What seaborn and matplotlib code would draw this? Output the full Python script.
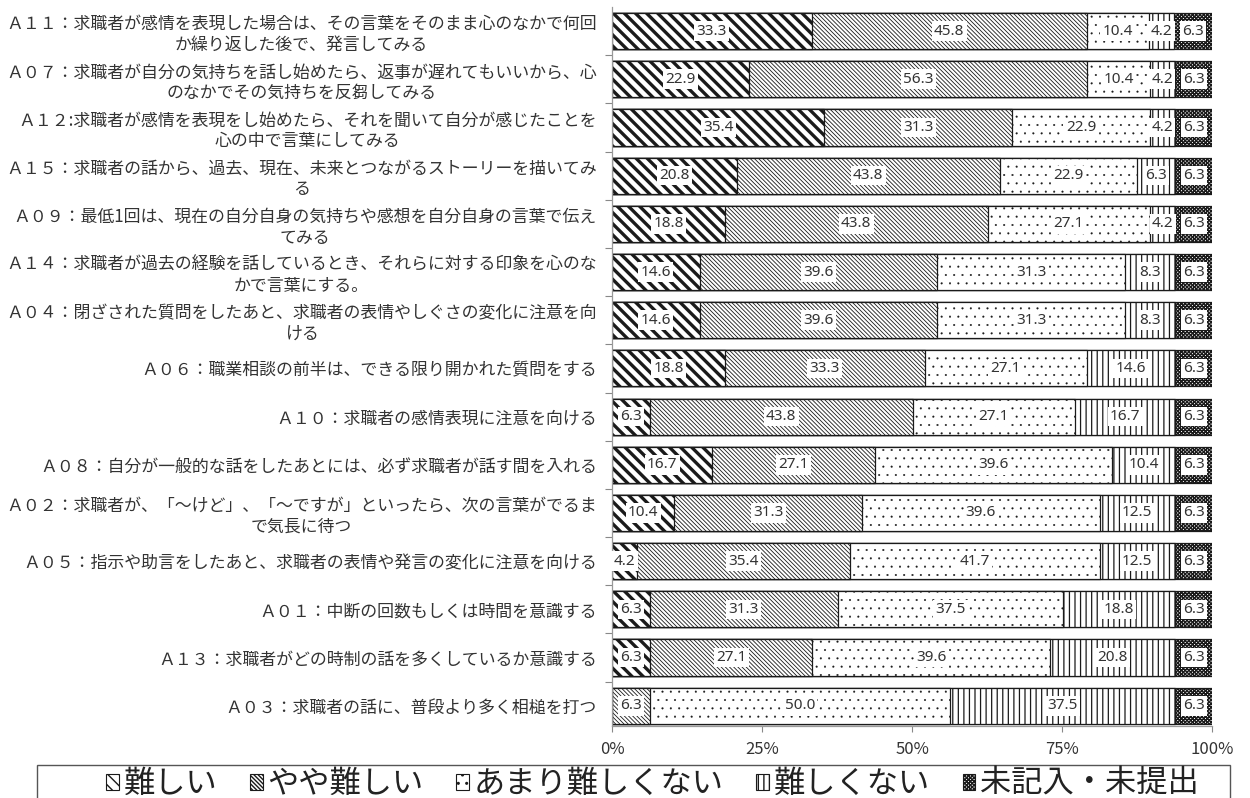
import numpy as np
import pandas as pd
import matplotlib
matplotlib.use("Agg")
import matplotlib.pyplot as plt
import matplotlib.patches as mpatches
import seaborn as sns

# ---------------- data ----------------
codes = ["A11", "A07", "A12", "A15", "A09", "A14", "A04", "A06",
         "A10", "A08", "A02", "A05", "A01", "A13", "A03"]
labels = [
    "Ａ１１：求職者が感情を表現した場合は、その言葉をそのまま心のなかで何回\nか繰り返した後で、発言してみる",
    "Ａ０７：求職者が自分の気持ちを話し始めたら、返事が遅れてもいいから、心\nのなかでその気持ちを反芻してみる",
    "Ａ１２:求職者が感情を表現をし始めたら、それを聞いて自分が感じたことを\n心の中で言葉にしてみる",
    "Ａ１５：求職者の話から、過去、現在、未来とつながるストーリーを描いてみ\nる",
    "Ａ０９：最低1回は、現在の自分自身の気持ちや感想を自分自身の言葉で伝え\nてみる",
    "Ａ１４：求職者が過去の経験を話しているとき、それらに対する印象を心のな\nかで言葉にする。",
    "Ａ０４：閉ざされた質問をしたあと、求職者の表情やしぐさの変化に注意を向\nける",
    "Ａ０６：職業相談の前半は、できる限り開かれた質問をする",
    "Ａ１０：求職者の感情表現に注意を向ける",
    "Ａ０８：自分が一般的な話をしたあとには、必ず求職者が話す間を入れる",
    "Ａ０２：求職者が、「～けど」、「～ですが」といったら、次の言葉がでるま\nで気長に待つ",
    "Ａ０５：指示や助言をしたあと、求職者の表情や発言の変化に注意を向ける",
    "Ａ０１：中断の回数もしくは時間を意識する",
    "Ａ１３：求職者がどの時制の話を多くしているか意識する",
    "Ａ０３：求職者の話に、普段より多く相槌を打つ",
]
series_names = ["難しい", "やや難しい", "あまり難しくない", "難しくない", "未記入・未提出"]
hard        = [33.3, 22.9, 35.4, 20.8, 18.8, 14.6, 14.6, 18.8, 6.3, 16.7, 10.4, 4.2, 6.3, 6.3, 0.0]
rather_hard = [45.8, 56.3, 31.3, 43.8, 43.8, 39.6, 39.6, 33.3, 43.8, 27.1, 31.3, 35.4, 31.3, 27.1, 6.3]
not_very    = [10.4, 10.4, 22.9, 22.9, 27.1, 31.3, 31.3, 27.1, 27.1, 39.6, 39.6, 41.7, 37.5, 39.6, 50.0]
not_hard    = [4.2, 4.2, 4.2, 6.3, 4.2, 8.3, 8.3, 14.6, 16.7, 10.4, 12.5, 12.5, 18.8, 20.8, 37.5]
no_answer   = [6.3, 6.3, 6.3, 6.3, 6.3, 6.3, 6.3, 6.3, 6.3, 6.3, 6.3, 6.3, 6.3, 6.3, 6.3]
xticks = [0, 25, 50, 75, 100]
xticklabels = ["0%", "25%", "50%", "75%", "100%"]

# ---------------- style ----------------
sns.set_theme(style="white")
plt.rcParams["font.family"] = ["Noto Sans CJK JP", "DejaVu Sans"]
plt.rcParams["hatch.linewidth"] = 1.0
TXT = "#333333"

hatches = ["\\\\\\", "\\" * 8, "..", "|||", "x" * 9]
hatch_lw = [2.4, 0.6, 0.25, 0.9, 1.0]
hatch_col = ["#111111", "#333333", "#666666", "#222222", "#111111"]

df = pd.DataFrame({"code": codes,
                   series_names[0]: hard, series_names[1]: rather_hard,
                   series_names[2]: not_very, series_names[3]: not_hard,
                   series_names[4]: no_answer})
vals = df[series_names].to_numpy()
cum = np.cumsum(vals, axis=1)

fig = plt.figure(figsize=(12.5, 7.98), dpi=100)
ax = fig.add_axes([612 / 1250, 1 - 726 / 798, 600 / 1250, 719 / 798])


def style_hatch(p, lw, col):
    try:
        p.set_hatch_linewidth(lw)
    except Exception:
        pass
    try:
        p.set_hatchcolor(col)
    except Exception:
        pass


# draw cumulative bars from the longest to the shortest
for k in range(len(series_names) - 1, -1, -1):
    n0 = len(ax.patches)
    plot_df = pd.DataFrame({"code": codes, "value": cum[:, k]})
    sns.barplot(data=plot_df, x="value", y="code", order=codes, orient="h",
                color="white", width=0.75, errorbar=None, ax=ax)
    for p in ax.patches[n0:]:
        p.set_facecolor("white")
        p.set_edgecolor("#1a1a1a")
        p.set_linewidth(0.9)
        p.set_hatch(hatches[k])
        style_hatch(p, hatch_lw[k], hatch_col[k])

# value labels
for i in range(len(codes)):
    left = 0.0
    for k in range(len(series_names)):
        v = vals[i, k]
        if v > 0:
            ax.text(left + v / 2, i, f"{v:.1f}", ha="center", va="center",
                    fontsize=11, color=TXT, family=["Noto Sans", "DejaVu Sans"],
                    bbox=dict(facecolor="white", edgecolor="none", pad=1.6))
        left += v

ax.set_xlim(0, 100)
ax.set_ylim(14.42, -0.5)
ax.set_xlabel("")
ax.set_ylabel("")
ax.set_xticks(xticks)
ax.set_xticklabels(xticklabels, fontsize=12, color=TXT)
ax.set_yticks(range(len(codes)))
ax.set_yticklabels(labels, fontsize=12.2, color=TXT)
for t in ax.get_yticklabels():
    t.set_multialignment("center")
ax.set_yticks(np.arange(0.5, len(codes) - 1, 1.0), minor=True)
ax.tick_params(axis="y", which="major", length=0, pad=11)
ax.tick_params(axis="y", which="minor", length=5, color="#888888", width=0.8, left=True)
ax.tick_params(axis="x", which="major", length=4, color="#888888", width=0.8,
               bottom=True, pad=7)
for s in ["top", "right"]:
    ax.spines[s].set_visible(False)
for s in ["left", "bottom"]:
    ax.spines[s].set_color("#999999")
    ax.spines[s].set_linewidth(0.9)

# legend
handles = []
for k, name in enumerate(series_names):
    h = mpatches.Patch(facecolor="white", edgecolor="#1a1a1a", hatch=hatches[k],
                       linewidth=0.8, label=name)
    style_hatch(h, hatch_lw[k] * 0.6, hatch_col[k])
    handles.append(h)
leg = fig.legend(handles=handles, loc="center",
                 bbox_to_anchor=(0.522, 1 - 784 / 798), ncol=5, frameon=False,
                 fontsize=22.5, handlelength=0.4, handleheight=0.4,
                 handletextpad=0.15, columnspacing=1.05)
for t in leg.get_texts():
    t.set_color("#222222")
frame = mpatches.Rectangle((37 / 1250, -0.05), (1230 - 37) / 1250, 0.05 + (798 - 765) / 798,
                           transform=fig.transFigure, facecolor="none",
                           edgecolor="#555555", linewidth=1.0, clip_on=False)
fig.patches.append(frame)

fig.savefig("out.png", dpi=100)
